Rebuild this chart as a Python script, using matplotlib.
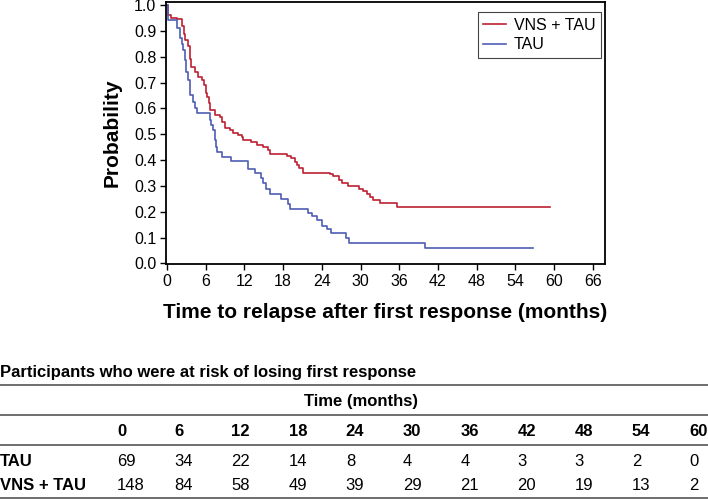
import matplotlib
matplotlib.use("Agg")
import matplotlib.pyplot as plt
from matplotlib.lines import Line2D
import numpy as np

plt.rcParams['font.family'] = ['Liberation Sans', 'DejaVu Sans']

# ---- Kaplan-Meier step data ----
vns_t = [0, 0.2, 0.7, 1.6, 2.3, 2.6, 2.8, 3.2, 3.6, 3.8, 4.3, 4.85, 5.4, 5.7, 6.05, 6.25,
         6.45, 6.67, 7.4, 8.2, 8.6, 9.0, 9.8, 10.3, 11.05, 11.6, 11.8, 13.1, 13.9, 14.9,
         15.7, 16.0, 18.6, 19.3, 19.8, 20.2, 20.5, 21.1, 25.3, 25.8, 26.6, 27.1, 28.1,
         29.8, 30.4, 31.0, 31.5, 32.0, 33.0, 35.6, 59.4]
vns_s = [1.0, 0.961, 0.952, 0.945, 0.92, 0.89, 0.865, 0.84, 0.79, 0.76, 0.74, 0.72, 0.71,
         0.69, 0.66, 0.645, 0.62, 0.594, 0.574, 0.568, 0.549, 0.523, 0.516, 0.504, 0.497,
         0.49, 0.478, 0.471, 0.458, 0.452, 0.439, 0.424, 0.416, 0.407, 0.394, 0.381, 0.368,
         0.352, 0.345, 0.338, 0.325, 0.31, 0.30, 0.29, 0.28, 0.27, 0.258, 0.246, 0.233,
         0.22, 0.22]

tau_t = [0, 0.1, 1.5, 2.0, 2.3, 2.5, 2.8, 3.0, 3.3, 3.6, 4.1, 4.3, 4.7, 6.7, 6.9, 7.2,
         7.4, 7.6, 7.8, 8.6, 10.0, 12.5, 13.6, 14.6, 14.9, 15.4, 15.9, 17.7, 18.8, 19.1,
         21.9, 22.5, 23.2, 24.0, 24.8, 25.5, 27.8, 28.2, 40.0, 56.8]
tau_s = [1.0, 0.942, 0.91, 0.871, 0.85, 0.826, 0.787, 0.742, 0.71, 0.652, 0.626, 0.60,
         0.583, 0.555, 0.535, 0.516, 0.478, 0.45, 0.43, 0.412, 0.396, 0.364, 0.349, 0.33,
         0.31, 0.29, 0.27, 0.25, 0.232, 0.212, 0.197, 0.183, 0.168, 0.146, 0.132, 0.118,
         0.10, 0.08, 0.061, 0.061]

series_labels = ['VNS + TAU', 'TAU']
series_colors = ['#BE2032', '#4E5DB4']

x_ticks = list(range(0, 67, 6))
y_ticks = [round(0.1 * i, 1) for i in range(11)]

# ---- at-risk table ----
risk_times = [0, 6, 12, 18, 24, 30, 36, 42, 48, 54, 60]
risk_tau = [69, 34, 22, 14, 8, 4, 4, 3, 3, 2, 0]
risk_vns = [148, 84, 58, 49, 39, 29, 21, 20, 19, 13, 2]
risk_rows = ['TAU', 'VNS + TAU']

W, H = 708, 501
fig = plt.figure(figsize=(W / 100, H / 100), dpi=100)

def fx(px):
    return px / W

def fy(py):
    return 1 - py / H

ax = fig.add_axes([fx(166), fy(264), fx(605) - fx(166), fy(2) - fy(264)])
ax.step(vns_t, vns_s, where='post', color=series_colors[0], lw=1.2, label=series_labels[0])
ax.step(tau_t, tau_s, where='post', color=series_colors[1], lw=1.2, label=series_labels[1])

ax.set_xlim(-0.15, 67.9)
ax.set_ylim(-0.002, 1.012)
ax.set_xticks(x_ticks)
ax.set_yticks(y_ticks)
ax.set_yticklabels([f"{v:.1f}" for v in y_ticks])
ax.tick_params(direction='out', length=4, width=1.0, labelsize=11.5, pad=3)
for s in ax.spines.values():
    s.set_linewidth(1.3)
    s.set_color('black')

ax.set_xlabel('Time to relapse after first response (months)', fontsize=15,
              fontweight='bold', labelpad=10)
ax.set_ylabel('Probability', fontsize=15, fontweight='bold', labelpad=9)

leg = ax.legend(loc='upper right', bbox_to_anchor=(0.991, 0.962), fontsize=11.5,
                frameon=True, fancybox=False, edgecolor='#444444', framealpha=1,
                handlelength=1.4, handletextpad=0.5, borderpad=0.35, labelspacing=0.3,
                borderaxespad=0)
leg.get_frame().set_linewidth(0.8)

# ---- table ----
fig.text(fx(0), fy(373), 'Participants who were at risk of losing first response',
         fontsize=12, fontweight='bold', ha='left', va='center')
for py in [385, 415, 445, 498]:
    fig.add_artist(Line2D([0, 1], [fy(py), fy(py)], color='#555555', lw=1.2,
                          transform=fig.transFigure))
fig.text(fx(361.5), fy(401.5), 'Time (months)', fontsize=12, fontweight='bold',
         ha='center', va='center')
col_x = [117 + i * 57.2 for i in range(len(risk_times))]
for cx, t, a, b in zip(col_x, risk_times, risk_tau, risk_vns):
    fig.text(fx(cx), fy(431.5), str(t), fontsize=12, fontweight='bold', ha='left', va='center')
    fig.text(fx(cx), fy(461.5), str(a), fontsize=12, ha='left', va='center')
    fig.text(fx(cx), fy(485), str(b), fontsize=12, ha='left', va='center')
fig.text(fx(0), fy(461.5), risk_rows[0], fontsize=12, fontweight='bold', ha='left', va='center')
fig.text(fx(0), fy(485), risk_rows[1], fontsize=12, fontweight='bold', ha='left', va='center')

fig.savefig('out.png', dpi=100)
